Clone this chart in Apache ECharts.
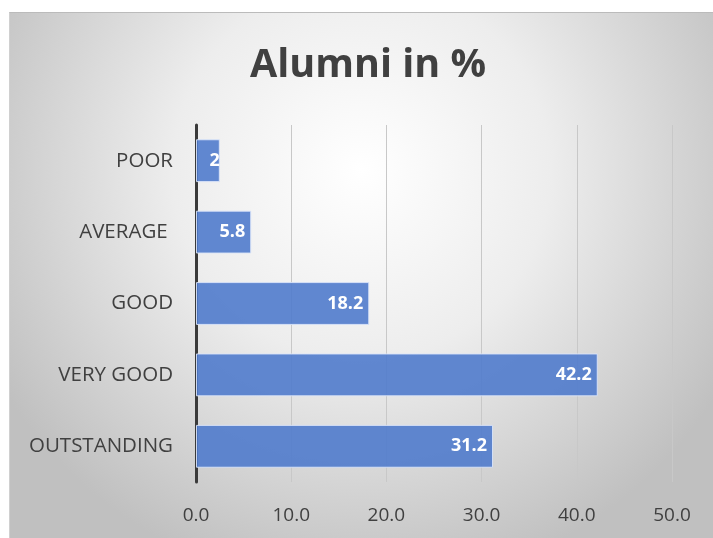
<!DOCTYPE html>
<html>
<head>
<meta charset="utf-8">
<script src="https://cdn.jsdelivr.net/npm/echarts@6/dist/echarts.min.js"></script>
<style>
html,body{margin:0;padding:0;background:#fff;width:713px;height:538px;overflow:hidden;}
#chart{position:absolute;left:9px;top:12px;width:704px;height:526px;border-top:1px solid #bbb;border-left:1px solid #d0d0d0;box-sizing:border-box;}
</style>
</head>
<body>
<div id="chart"></div>
<script>
const titleText = 'Alumni in %';
const categories = ['OUTSTANDING', 'VERY GOOD', 'GOOD', 'AVERAGE ', 'POOR'];
const values = [31.2, 42.2, 18.2, 5.8, 2.5];
const xTicks = [0, 10, 20, 30, 40, 50];

const chart = echarts.init(document.getElementById('chart'), null, {renderer: 'canvas'});
const fontFam = '"Open Sans", "Noto Sans", sans-serif';
const data = values.map((v, i) => {
  const item = {value: v};
  if (v < 4) {
    item.label = {width: 13, overflow: 'truncate', ellipsis: '', distance: 0};
  }
  return item;
});
chart.setOption({
  backgroundColor: {
    type: 'radial', x: 0.5, y: 0.3, r: 0.8,
    colorStops: [{offset: 0, color: '#ffffff'}, {offset: 0.45, color: '#ededed'}, {offset: 1, color: '#c0c0c0'}]
  },
  animation: false,
  title: {
    text: titleText, left: 353, textAlign: 'center', top: 28,
    textStyle: {fontFamily: fontFam, fontWeight: 'bold', fontSize: 39.5, color: '#404040'}
  },
  grid: {left: 186, right: 41, top: 112, bottom: 56, containLabel: false},
  xAxis: {
    type: 'value', min: xTicks[0], max: xTicks[xTicks.length - 1], interval: 10,
    axisLine: {show: false}, axisTick: {show: false},
    splitLine: {show: true, lineStyle: {color: '#c8c8c8', width: 1}},
    axisLabel: {formatter: v => v.toFixed(1), color: '#404040', fontFamily: fontFam, fontSize: 19, margin: 24}
  },
  yAxis: {
    type: 'category', data: categories,
    axisLine: {show: true, lineStyle: {color: '#3a3a3a', width: 3}},
    axisTick: {show: false},
    axisLabel: {color: '#404040', fontFamily: fontFam, fontSize: 20.5, margin: 23}
  },
  series: [{
    type: 'bar', data: data, barCategoryGap: '40%',
    itemStyle: {color: 'rgba(80,123,204,0.9)', borderColor: 'rgba(220,230,250,0.9)', borderWidth: 1},
    label: {
      show: true, position: 'insideRight', distance: 6,
      formatter: p => String(p.value),
      color: '#ffffff', fontWeight: 'bold', fontFamily: fontFam, fontSize: 18
    }
  }]
});
</script>
</body>
</html>
